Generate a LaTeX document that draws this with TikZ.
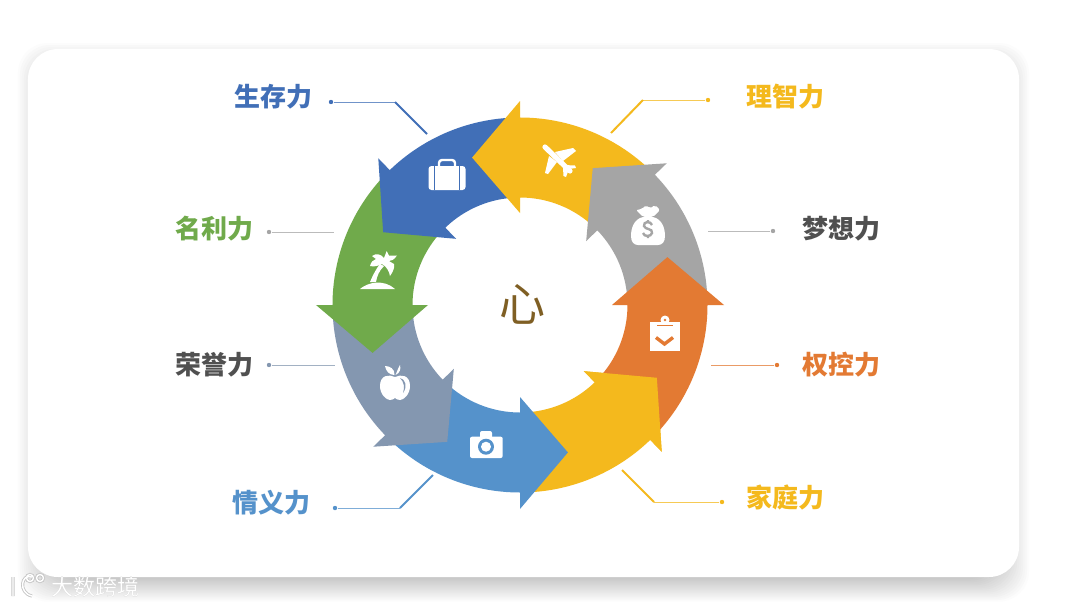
\documentclass[tikz,border=0pt]{standalone}
\usepackage{fontspec}
\setmainfont{Noto Sans CJK SC}
\usepackage{xcolor}
\usepackage{tikz}
\usetikzlibrary{positioning, calc}
\definecolor{ringyellow}{HTML}{F4B91D}
\definecolor{ringgray}{HTML}{A5A5A5}
\definecolor{ringblue}{HTML}{416FB7}
\definecolor{ringgreen}{HTML}{70AA4B}
\definecolor{ringslate}{HTML}{8497B0}
\definecolor{ringsteel}{HTML}{5592CB}
\definecolor{ringorange}{HTML}{E37A33}
\definecolor{textdark}{HTML}{505050}
\definecolor{heartbrown}{HTML}{7F5F24}

\begin{document}
\begin{tikzpicture}[
    x=0.5pt, y=0.5pt,
    segment/.style={draw=none},
    namelabel/.style={font=\fontsize{13}{13}\selectfont\bfseries},
    leaderdot/.style={circle, inner sep=0pt, minimum size=2.2pt},
    leaderthin/.style={line width=0.45pt, opacity=0.75},
    leaderthick/.style={line width=1pt},
    icon/.style={fill=white, draw=none},
  ]
  \useasboundingbox (-520,-301) rectangle (560,305);
  % card with its shadow
  \foreach \k [evaluate=\k as \p using \k*1.33] in {0,1,...,16} {
    \fill[black!\p, rounded corners=15pt]
      ({-504+2*\k},{264-2*\k}) rectangle ({511-2*\k},{-298+1.5*\k});
  }
  \fill[white, rounded corners=15pt] (-492,256) rectangle (499,-272);
  % ring of arrows
  \foreach \a/\c in {-46/ringyellow, -90/ringsteel, -136/ringslate, 180/ringgreen,
                     134/ringblue, 90/ringyellow, 44/ringgray, 0/ringorange} {
    \fill[segment, fill=\c, rotate=\a] (-44:187.5)
      arc[start angle=-44, end angle=0, radius=187.5]
      -- (0:204) -- (18:155) -- (0:92) -- (0:107.5)
      arc[start angle=0, end angle=-44, radius=107.5] -- cycle;
  }
  % head that lies over the orange tail
  \fill[segment, fill=ringyellow, rotate=-46] (0:204) -- (18:155) -- (0:92) -- cycle;
  % centre
  \node[font=\fontsize{23}{23}\selectfont, text=heartbrown] (heart) at (2,1) {心};
  % suitcase
  \begin{scope}[shift={(-73,130)}]
    \draw[white, line width=1.2pt, rounded corners=1.5pt] (-8,8) -- (-8,15) -- (8,15) -- (8,8);
    \fill[icon, rounded corners=1.5pt] (-18.5,9) rectangle (18.5,-15);
    \draw[ringblue, line width=0.5pt] (-12.5,9) -- (-12.5,-15) (12.5,9) -- (12.5,-15);
  \end{scope}
  % plane
  \begin{scope}[shift={(40,145)}]
    \draw[white, line width=2.6pt, line cap=round] (-15,13) -- (10,-11);
    \fill[icon] (-5,8) -- (13,12) -- (16,9) -- (3,-1) -- cycle;
    \fill[icon] (-11,4) -- (-15,-13) -- (-12,-14) -- (-3,-2) -- cycle;
    \fill[icon] (4,-5) -- (15,-5.5) -- (16,-8) -- (9,-9) -- (6,-17) -- (3.5,-16) -- (3,-8) -- cycle;
  \end{scope}
  % money bag
  \begin{scope}[shift={(128,80)}]
    \fill[icon, rounded corners=1pt] (-5,8) -- (-12,15) -- (-6,16) -- (-2,20) -- (2,16.5) -- (7,20) -- (12,15) -- (5,8) -- cycle;
    \fill[icon] (-5,8) .. controls (-14,6) and (-17,-3) .. (-17,-11)
      .. controls (-17,-17) and (-14,-20) .. (-10,-20) -- (10,-20)
      .. controls (14,-20) and (17,-17) .. (17,-11)
      .. controls (17,-3) and (14,6) .. (5,8) -- cycle;
    \draw[ringgray, line width=1.2pt] (4,0) .. controls (3,4) and (-5,4) .. (-4,-1)
      .. controls (-3,-5) and (5,-3) .. (4,-8) .. controls (3,-12) and (-4,-12) .. (-5,-8)
      (0,5) -- (0,2.5) (0,-10.5) -- (0,-13);
  \end{scope}
  % clipboard
  \begin{scope}[shift={(145,-31)}]
    \fill[icon] (0,16) circle (4.5);
    \fill[icon] (-15,14.5) rectangle (15,-14.5);
    \fill[ringorange] (0,16) circle (1.3);
    \draw[ringorange, line width=0.5pt] (-8,10.3) -- (8,10.3);
    \draw[ringorange, line width=1.7pt] (-9,-1.5) -- (-0.5,-8) -- (8,-1.5);
  \end{scope}
  % camera
  \begin{scope}[shift={(-34,-140)}]
    \fill[icon, rounded corners=1pt] (-6,14) rectangle (6,5);
    \fill[icon, rounded corners=1pt] (-16,8.3) rectangle (16.7,-13);
    \fill[ringsteel] (0,-1.7) circle (8);
    \fill[icon] (0,-1.7) circle (5);
  \end{scope}
  % apple
  \begin{scope}[shift={(-125,-81)}]
    \fill[icon] (0,9) .. controls (-6,12) and (-15,11) .. (-15,0)
      .. controls (-15,-8) and (-9,-14) .. (-5,-14) .. controls (-3,-14) and (-1,-13) .. (0,-12)
      .. controls (1,-13) and (3,-14) .. (5,-14) .. controls (9,-14) and (15,-8) .. (15,0)
      .. controls (15,11) and (6,12) .. (0,9) -- cycle;
    \fill[icon] (-0.5,11) .. controls (-6,11) and (-9,15) .. (-10,20) .. controls (-5,20) and (0,17) .. (-0.5,11) -- cycle;
    \fill[icon] (0.5,11) .. controls (2,14) and (3,18) .. (5,21) .. controls (6,17) and (5,13) .. (0.5,11) -- cycle;
    \fill[ringslate] (5,8) .. controls (10,7) and (13,0) .. (8,-7) .. controls (10,-1) and (9,4) .. (5,8) -- cycle;
  \end{scope}
  % palm
  \begin{scope}[shift={(-142,35)}]
    \fill[icon] (-18,-19) .. controls (-10,-12) and (6,-9) .. (17,-19) -- cycle;
    \fill[icon] (-8,-12) .. controls (-5,-5) and (-2,1) .. (2,6) -- (6,4) .. controls (1,-1) and (-1,-6) .. (-2,-12) -- cycle;
    \fill[icon] (4,6) .. controls (0,4) and (-4,3) .. (-8,4) .. controls (-7,8) and (-5,10) .. (-2,11)
      -- (-6,14) .. controls (-2,17) and (3,16) .. (6,12) -- (8.7,19) -- (11,14.5) -- (19,14.5)
      .. controls (16,10) and (13,9) .. (11,9) -- (16,6) .. controls (17,3) and (15,-2) .. (12,-6)
      .. controls (11,-1) and (9,3) .. (4,6) -- cycle;
  \end{scope}
  % names with a bent leader
  \foreach \n/\t/\c/\lx/\ly/\dx/\dy/\bx/\ex/\ey in {
      life/生存力/ringblue/-246/208/-189/203/-125/-93/171,
      reason/理智力/ringyellow/265/208/188/205/123/91/172,
      family/家庭力/ringyellow/265/-192/202/-197/134/102/-165,
      bond/情义力/ringsteel/-248/-198/-185/-203/-120/-87/-170} {
    \node[namelabel, text=\c] (name\n) at (\lx,\ly) {\t};
    \node[leaderdot, fill=\c] (dot\n) at (\dx,\dy) {};
    \coordinate (bend\n) at (\bx,\dy);
    \coordinate (end\n) at (\ex,\ey);
    \draw[leaderthin, \c] (dot\n) -- (bend\n);
    \draw[leaderthick, \c] (bend\n) -- (end\n);
  }
  % names with a straight leader
  \foreach \n/\t/\c/\l/\lx/\ly/\dx/\dy/\ex in {
      dream/梦想力/textdark/ringgray/321/76/253/74/188,
      power/权控力/ringorange/ringorange/321/-60/257/-60/191,
      honor/荣誉力/textdark/ringslate/-305/-60/-251/-60/-185,
      fame/名利力/ringgreen/ringgray/-305/76/-251/73/-186} {
    \node[namelabel, text=\c] (name\n) at (\lx,\ly) {\t};
    \node[leaderdot, fill=\l] (dot\n) at (\dx,\dy) {};
    \coordinate (end\n) at (\ex,\dy);
    \draw[leaderthin, \l] (dot\n) -- (end\n);
  }
  % watermark
  \node[font=\fontsize{11}{11}\selectfont, text=gray!55] (markback) at (-424.5,-282.5) {大数跨境};
  \node[font=\fontsize{11}{11}\selectfont, text=white] (mark) at (-424,-282) {大数跨境};
  \foreach \w/\c in {1.6pt/gray!45, 0.7pt/white} {
    \draw[\c, line width=\w] (-507,-272) -- (-507,-291)
      (-488,-272) .. controls (-499,-268) and (-502,-288) .. (-488,-291);
    \draw[\c, line width=\w] (-490,-273) circle (3.5) (-480,-273) circle (3.5);
  }
\end{tikzpicture}
\end{document}
